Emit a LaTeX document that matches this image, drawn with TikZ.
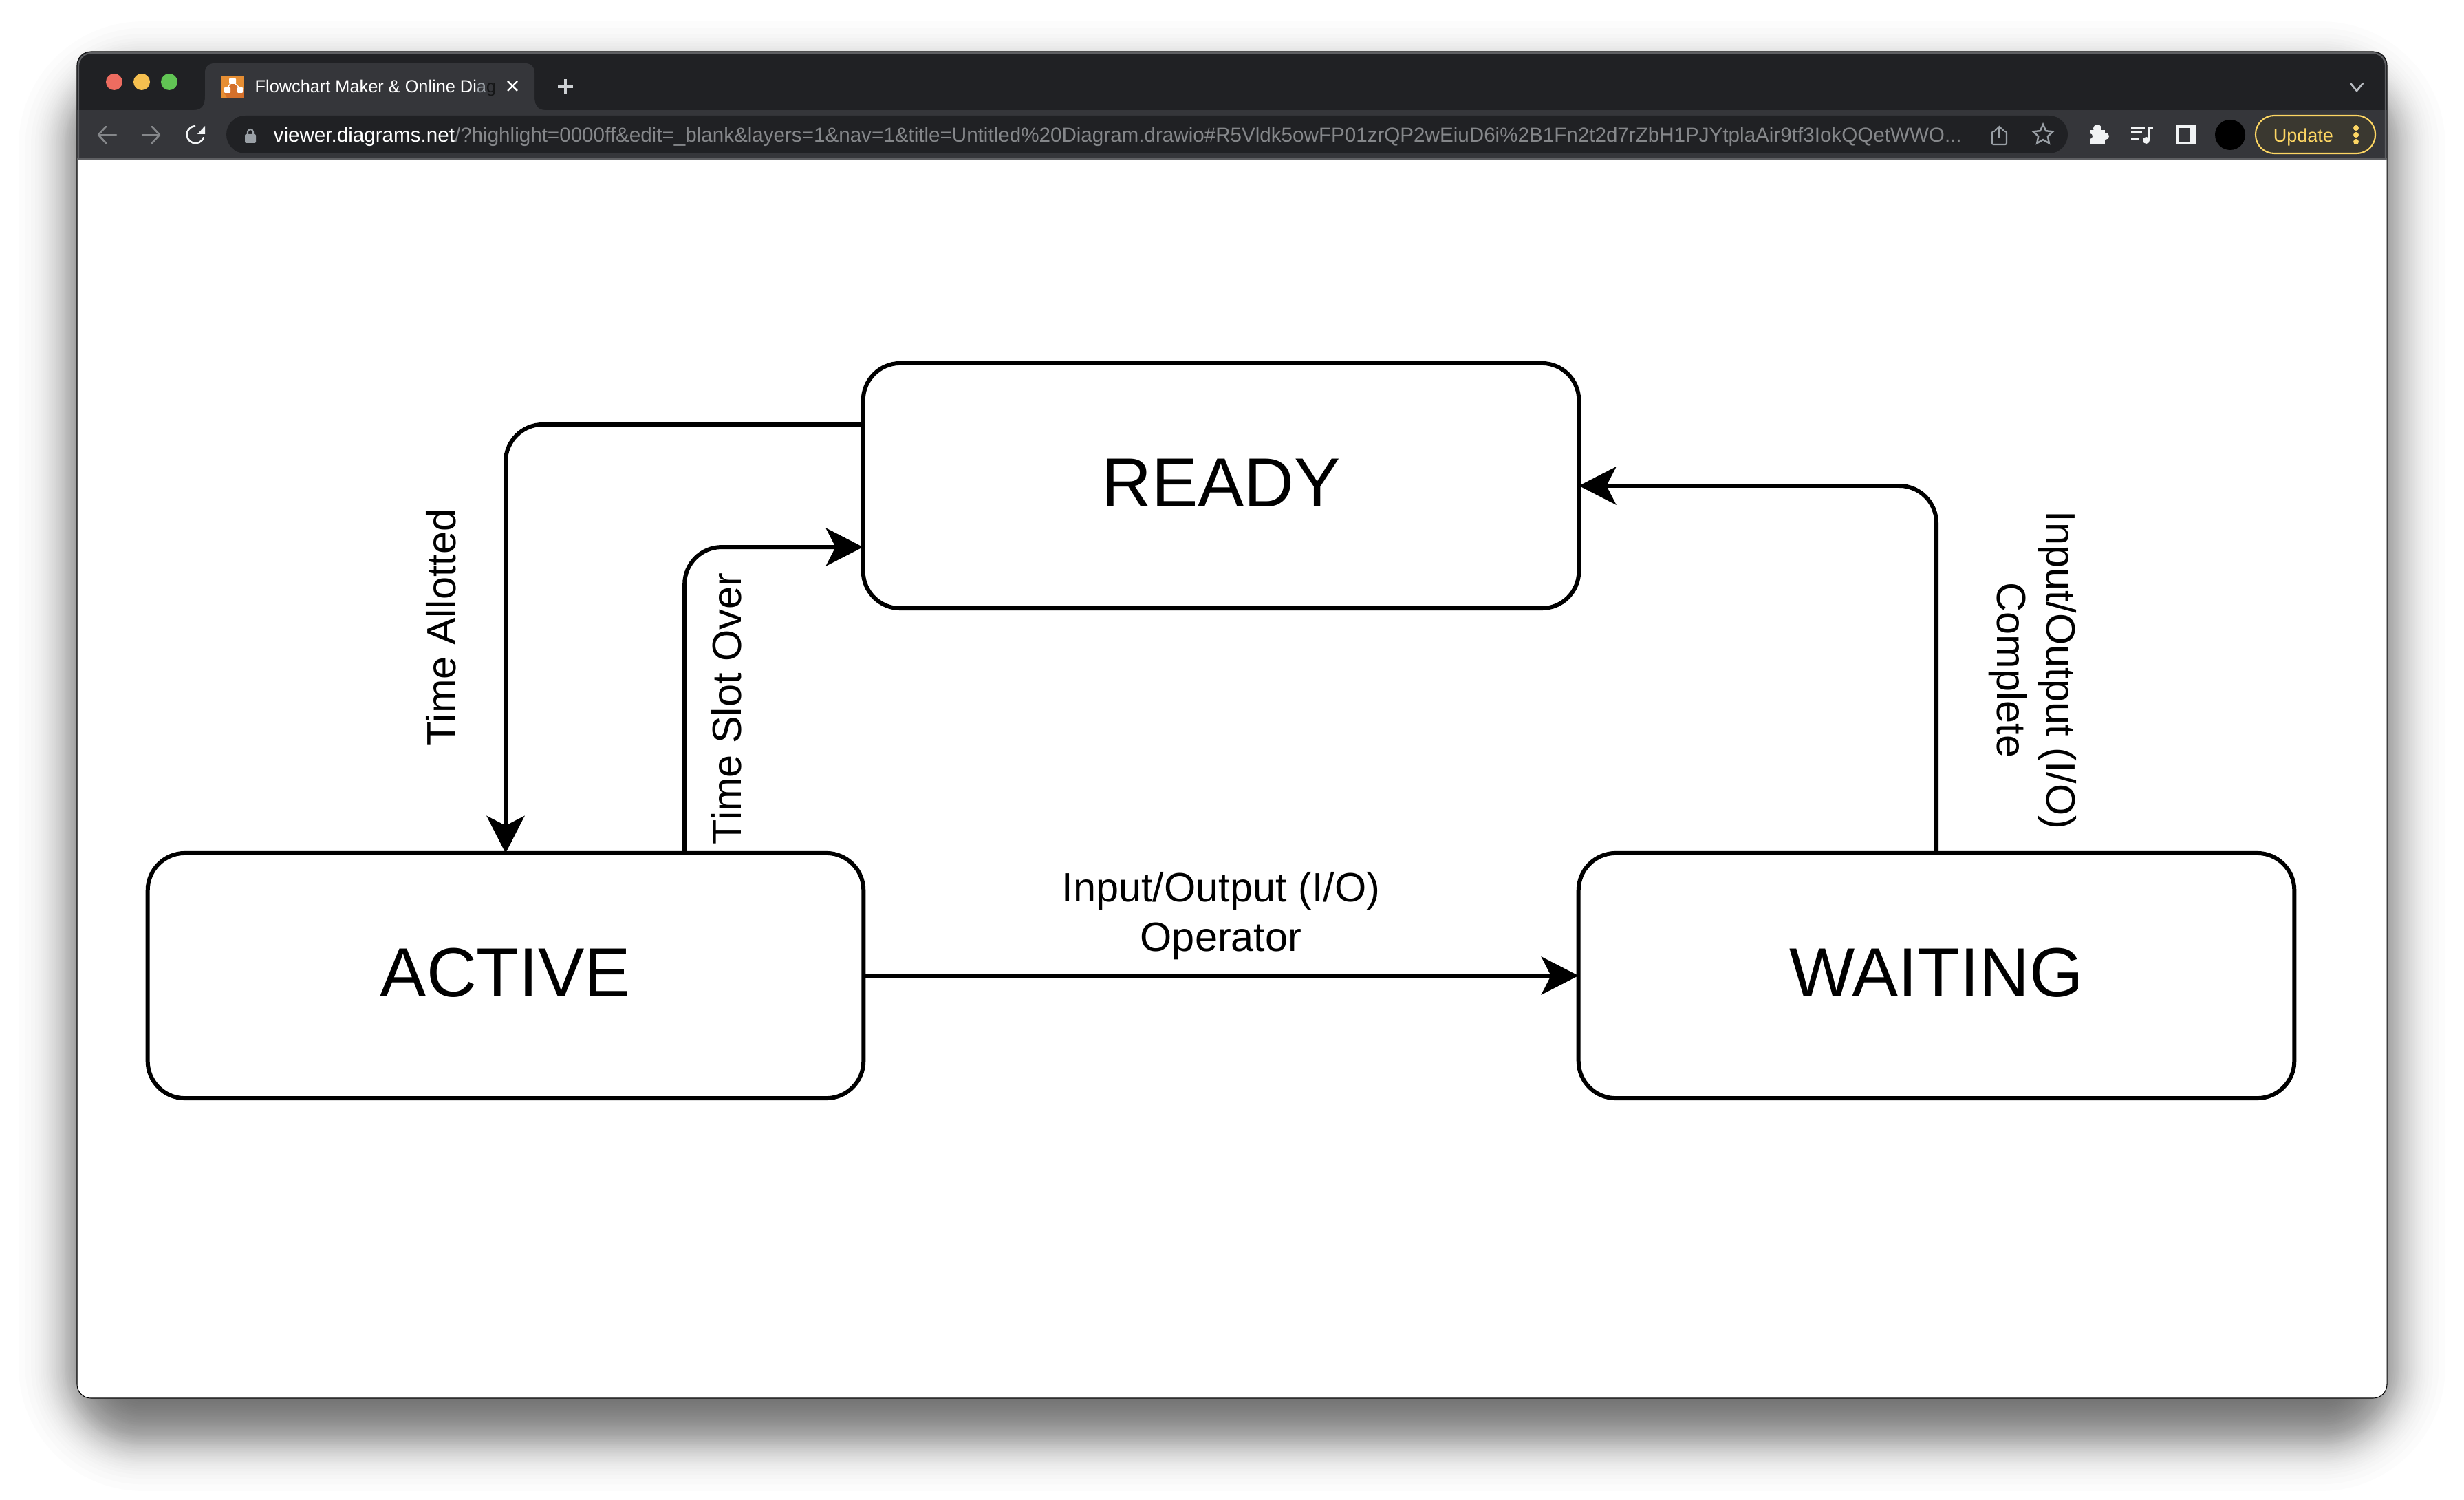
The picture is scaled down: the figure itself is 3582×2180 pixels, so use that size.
\documentclass[tikz,border=0pt]{standalone}
\usepackage{fontspec}
\setmainfont{Liberation Sans}
\usetikzlibrary{arrows.meta,shapes.geometric}
\definecolor{titlebar}{HTML}{202124}
\definecolor{toolbar}{HTML}{35363A}
\definecolor{stripline}{HTML}{5F6063}
\definecolor{iconlight}{HTML}{F1F3F4}
\definecolor{icongrey}{HTML}{9AA0A6}
\definecolor{urlgrey}{HTML}{85878A}
\definecolor{updategold}{HTML}{FDD663}
\definecolor{updatefill}{HTML}{3A3830}
\definecolor{faviconorange}{HTML}{E68E33}
\definecolor{faviconshade}{HTML}{D4702B}
\definecolor{lightred}{HTML}{ED6C60}
\definecolor{lightamber}{HTML}{F5BF4F}
\definecolor{lightgreen}{HTML}{61C554}
\tikzset{
    statebox/.style={draw=black,line width=1.7pt,fill=white,rounded corners=.54cm,minimum width=10.4cm,minimum height=3.56cm,inner sep=0pt,outer sep=0pt,text depth=.09cm,font=\fontsize{28.7}{34}\selectfont},
    flow/.style={draw=black,line width=1.7pt,rounded corners=.54cm,-{Stealth[length=.54cm,width=.55cm,inset=.14cm]}},
    flowlabel/.style={align=center,inner sep=0pt,font=\fontsize{16.9}{20.5}\selectfont},
    urltext/.style={anchor=base west,inner sep=0pt,font=\fontsize{8.42}{10}\selectfont},
    tabtext/.style={anchor=base west,inner sep=0pt,font=\fontsize{7.2}{8}\selectfont},
    navicon/.style={line width=.75pt,line cap=round,line join=round},
}
\begin{document}
\begin{tikzpicture}[x=0.01cm,y=-0.01cm]
    \useasboundingbox (0,0) rectangle (3582,2180);
    \fill[white] (0,0) rectangle (3582,2180);
    \foreach \e in {-68,-60,-53,-48,-44,-41,-38,-35,-33,-31,-29,-27,-25,-23,-22,-20,-18,-16,-15,-13,-12,-11,-10,-8,-7,-5,-4,-2,-1,0,1,2,4,5,7,8,10,11,12,13,15,16,18,20,22,23,25,27,29,31,33,35,38,41,44,48,53,60,68} {
        \pgfmathsetmacro\g{1.19*(\e)}
        \fill[black,opacity=.011,rounded corners=(100+\g)*0.01cm] ({108-\g},{112-\g}) rectangle ({3474+\g},{2086+\g});
    }
    \draw[black,line width=.3pt,fill=white,rounded corners=.2cm] (112,75) rectangle (3470,2032);
    \begin{scope}
        \clip[rounded corners=.2cm] (112,75) rectangle (3470,2032);
        \fill[titlebar] (112,75) rectangle (3470,160);
        \fill[toolbar] (112,160) rectangle (3470,230);
        \fill[stripline] (112,230) rectangle (3470,233);
        \draw[stripline,line width=.6pt,rounded corners=.19cm] (114,233) -- (114,77) -- (3468,77) -- (3468,233);
    \end{scope}
    % tab strip
    \fill[toolbar] (282,160) .. controls (294,160) and (298,152) .. (298,140) -- (298,106) .. controls (298,97) and (303,92) .. (312,92) -- (763,92) .. controls (772,92) and (777,97) .. (777,106) -- (777,140) .. controls (777,152) and (781,160) .. (793,160) -- cycle;
    \fill[lightred] (166,119) circle (12);
    \fill[lightamber] (206,119) circle (12);
    \fill[lightgreen] (246,119) circle (12);
    \fill[faviconorange] (322,110) rectangle (354,142);
    \fill[faviconshade] (338,118) -- (354,130) -- (354,142) -- (330,142) -- (326,135) -- cycle;
    \draw[white,line width=.4pt] (330,128) -- (338,118) -- (349,128);
    \fill[white,rounded corners=.01cm] (333,114) rectangle (343,122);
    \fill[white,rounded corners=.01cm] (326,127) rectangle (335,135);
    \fill[white,rounded corners=.01cm] (345,127) rectangle (353,135);
    \node[tabtext] (tabtitle) at (370,135) {\textcolor{white}{Flowchart Maker \& Online Di}\textcolor{icongrey}{a}\textcolor{black!60!toolbar}{g}};
    \draw[white,line width=.7pt] (738,118) -- (752,132);
    \draw[white,line width=.7pt] (752,118) -- (738,132);
    \draw[icongrey!50!white,line width=1pt] (811,126) -- (833,126);
    \draw[icongrey!50!white,line width=1pt] (822,115) -- (822,137);
    \draw[icongrey!70!white,navicon] (3417,121) -- (3426,132) -- (3435,121);
    % navigation
    \draw[urlgrey,navicon] (169,196) -- (143,196);
    \draw[urlgrey,navicon] (154,184) -- (143,196) -- (154,208);
    \draw[urlgrey,navicon] (207,196) -- (232,196);
    \draw[urlgrey,navicon] (221,184) -- (232,196) -- (221,208);
    \draw[iconlight,navicon] (296,200) arc[start angle=20,end angle=265,radius=12.5];
    \fill[iconlight] (298,183) -- (298,195) -- (287,195) -- cycle;
    % address bar
    \fill[titlebar,rounded corners=.275cm] (329,168) rectangle (3006,223);
    \fill[icongrey,rounded corners=.02cm] (356,195) rectangle (372,208);
    \draw[icongrey,line width=.6pt] (360,196) -- (360,192) arc[start angle=180,end angle=360,radius=4] -- (368,196);
    \node[urltext] (urlbar) at (397,207) {\textcolor{white}{viewer.diagrams.net}\textcolor{urlgrey}{/?highlight=0000ff\&edit=\_blank\&layers=1\&nav=1\&title=Untitled\%20Diagram.drawio\#R5Vldk5owFP01zrQP2wEiuD6i\%2B1Fn2t2d7rZbH1PJYtplaAir9tf3IokQQetWWO...}};
    \draw[icongrey,line width=.6pt,rounded corners=.02cm] (2900,191) -- (2896,191) -- (2896,210) -- (2917,210) -- (2917,191) -- (2913,191);
    \draw[icongrey,line width=.6pt] (2906.5,201) -- (2906.5,184);
    \draw[icongrey,line width=.6pt] (2900,190) -- (2906.5,184) -- (2913,190);
    \node[star,star points=5,star point ratio=2.1,draw=icongrey,line width=.7pt,inner sep=0pt,minimum size=.3cm] (bookmark) at (2970,196) {};
    % extension icons
    \fill[iconlight] (3038,189) rectangle (3060,209);
    \fill[iconlight] (3049,187) circle (6);
    \fill[iconlight] (3061,198) circle (5);
    \fill[toolbar] (3038,198) circle (4);
    \fill[iconlight] (3098,184) rectangle (3118,187);
    \fill[iconlight] (3098,191) rectangle (3114,194);
    \fill[iconlight] (3098,200) rectangle (3110,203);
    \fill[iconlight] (3120,204) circle (5);
    \fill[iconlight] (3123,184) rectangle (3130,187);
    \fill[iconlight] (3123,184) rectangle (3126,204);
    \fill[iconlight] (3164,182) rectangle (3192,210);
    \fill[toolbar] (3168,186) rectangle (3183,206);
    \fill[black] (3242,196) circle (22);
    \draw[updategold,line width=.6pt,fill=updatefill,rounded corners=.27cm] (3279,168) rectangle (3453,223);
    \node[urltext,font=\fontsize{7.7}{9}\selectfont] (updatetext) at (3304,207) {\textcolor{updategold}{Update}};
    \foreach \d in {186,196,206}
        \fill[updategold] (3425,\d) circle (4);
    % states
    \node[statebox] (ready) at (1775,706) {READY};
    \node[statebox] (active) at (735,1418) {ACTIVE};
    \node[statebox] (waiting) at (2815,1418) {WAITING};
    \draw[flow] ([yshift=.89cm]ready.west) -| (active.north);
    \draw[flow] ([xshift=2.6cm]active.north) |- ([yshift=-.89cm]ready.west);
    \draw[flow] (waiting.north) |- (ready.east);
    \draw[flow] (active.east) -- (waiting.west);
    \node[flowlabel,rotate=90,anchor=base] (allotted) at (662,912) {Time Allotted};
    \node[flowlabel,rotate=90,anchor=base] (slotover) at (1077,1030) {Time Slot Over};
    \node[flowlabel,rotate=-90] (iocomplete) at (2955,974) {Input/Output (I/O)\\Complete};
    \node[flowlabel] (iooperator) at (1775,1331) {Input/Output (I/O)\\Operator};
\end{tikzpicture}
\end{document}
